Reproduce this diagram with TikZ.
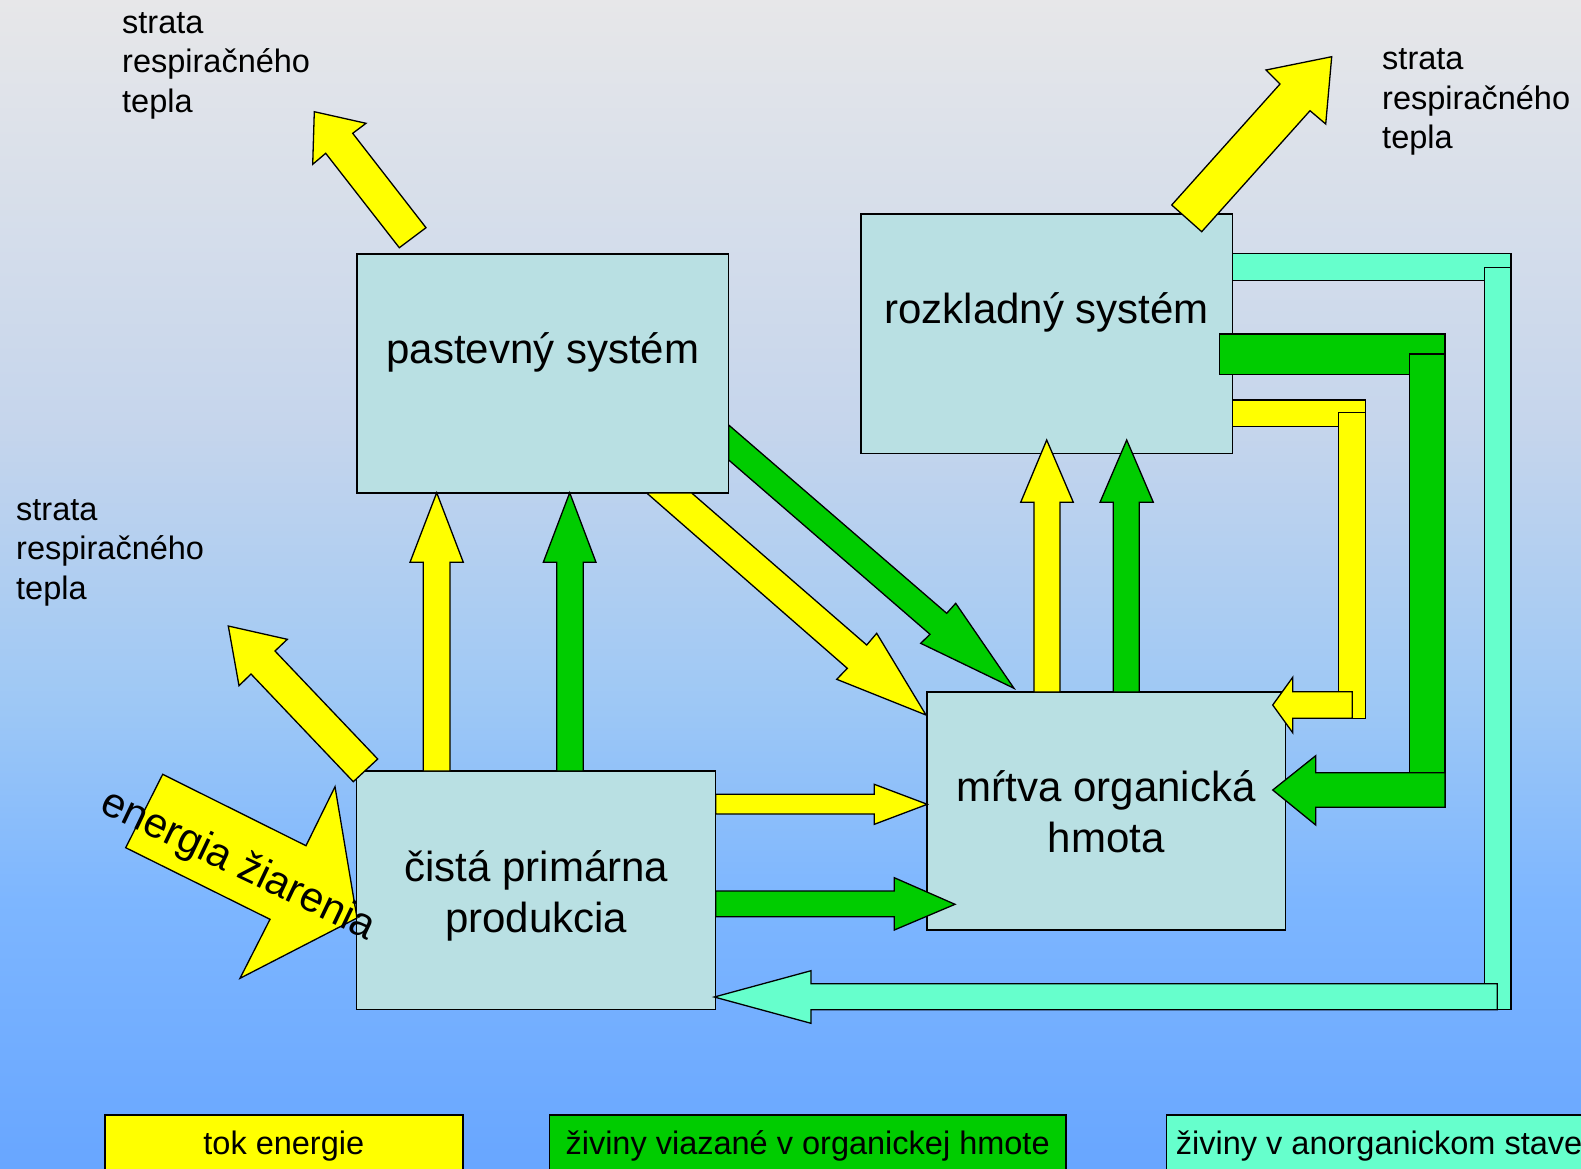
\documentclass[tikz,border=0pt]{standalone}
\usepackage{fontspec}
\setmainfont{Liberation Sans}
\newcommand\BoxFont{\fontsize{42}{50}\selectfont}
\newcommand\LabFont{\fontsize{32.5}{39}\selectfont}
\definecolor{boxc}{RGB}{185,224,227}
\definecolor{yel}{RGB}{255,255,0}
\definecolor{grn}{RGB}{0,204,0}
\definecolor{cyn}{RGB}{102,255,204}
\definecolor{bga}{RGB}{231,231,233}
\definecolor{bgb}{RGB}{197,213,236}
\definecolor{bgc}{RGB}{158,200,245}
\definecolor{bgd}{RGB}{125,182,255}
\definecolor{bge}{RGB}{104,166,255}
\tikzset{
  box/.style={draw=black, line width=1.3pt, fill=boxc, inner sep=0pt, outer sep=0pt, anchor=north west},
  legbox/.style={draw=black, line width=1.5pt, inner sep=0pt, outer sep=0pt, anchor=north west, minimum height=90pt},
  ya/.style={draw=black, line width=1.3pt, fill=yel, line join=miter},
  ga/.style={draw=black, line width=1.3pt, fill=grn, line join=miter},
  ca/.style={draw=black, line width=1.3pt, fill=cyn, line join=miter},
  btxt/.style={font=\BoxFont, anchor=base, inner sep=0pt},
  ltxt/.style={font=\LabFont, anchor=base west, inner sep=0pt},
}
\begin{document}
\begin{tikzpicture}[x=1pt,y=-1pt]
\useasboundingbox (0,0) rectangle (1581,1168);
\clip (0,0) rectangle (1581,1168);
% background
\shade[top color=bga, bottom color=bgb] (0,0) rectangle (1581,431);
\shade[top color=bgb, bottom color=bgc] (0,430) rectangle (1581,701);
\shade[top color=bgc, bottom color=bgd] (0,700) rectangle (1581,901);
\shade[top color=bgd, bottom color=bge] (0,900) rectangle (1581,1168);

% boxes
\node[box, minimum width=371.7pt, minimum height=239pt] (past) at (357,254) {};
\node[box, minimum width=371.7pt, minimum height=239.3pt] (rozk) at (861,214) {};
\node[box, minimum width=358.7pt, minimum height=238pt] (mrtv) at (927,692) {};
\node[box, minimum width=359pt, minimum height=238.5pt] (cist) at (356.7,771) {};

% respiration losses
\draw[ya] (314.3,111.7) -- (366,123.3) -- (352.7,133.3) -- (426,227.7) -- (399.3,247.7) -- (325.7,153.3) -- (312.7,164.3) -- cycle;
\draw[ya] (1331.7,56.7) -- (1325.7,124) -- (1310,110.7) -- (1201.7,231.7) -- (1171.7,205) -- (1280,84) -- (1266,70) -- cycle;
\draw[ya] (228.3,626) -- (287.3,639.3) -- (275,651) -- (377.7,759) -- (353.3,781.7) -- (251,674) -- (239,685.7) -- cycle;

% radiation input
\draw[ya] (162.7,774.3) -- (306,845.7) -- (335,786.7) -- (357,918) -- (240,978.3) -- (270,919.3) -- (125.7,847.7) -- cycle;

% primary production -> grazing
\draw[ya] (423.3,771) -- (423.3,562.3) -- (410,562.3) -- (436.7,492.7) -- (463.3,562.3) -- (450,562.3) -- (450,771) -- cycle;
\draw[ga] (556.7,771) -- (556.7,562.3) -- (543.3,562.3) -- (569.7,492.7) -- (596,562.3) -- (583.3,562.3) -- (583.3,771) -- cycle;

% grazing -> dead organic matter
\draw[ya] (646.7,493) -- (691.7,493) -- (866.7,645) -- (876.7,633.3) -- (926,715) -- (836.7,679.3) -- (847.3,668.3) -- cycle;
\draw[ga] (728.7,425) -- (946.7,613.3) -- (955.7,603.3) -- (1014,688.3) -- (920.7,643.3) -- (930,634.3) -- (728.7,460) -- cycle;

% primary production -> dead organic matter
\draw[ya] (715.7,794.3) -- (874.3,794.3) -- (874.3,784.3) -- (927.3,804.3) -- (874.3,824.3) -- (874.3,814) -- (715.7,814) -- cycle;
\draw[ga] (715.7,891) -- (894.3,891) -- (894.3,877.7) -- (955,904.3) -- (894.3,930) -- (894.3,916.7) -- (715.7,916.7) -- cycle;

% dead organic matter -> decomposition
\draw[ya] (1034,692) -- (1034,502.3) -- (1020.7,502.3) -- (1046.7,440) -- (1073.3,502.3) -- (1060,502.3) -- (1060,692) -- cycle;
\draw[ga] (1113.3,692) -- (1113.3,502.3) -- (1100,502.3) -- (1126.7,440) -- (1153.3,502.3) -- (1139.3,502.3) -- (1139.3,692) -- cycle;

% inorganic nutrients loop (cyan)
\draw[ca] (1232.7,253.3) rectangle (1511,280.7);
\draw[ca] (1484.3,267.7) rectangle (1511,1009.7);
\draw[ca] (1497.3,983.7) -- (811,983.7) -- (811,970.7) -- (714.3,997) -- (811,1023.3) -- (811,1009.7) -- (1497.3,1009.7) -- cycle;

% organic nutrients loop (green)
\draw[ga] (1219.3,334) rectangle (1445,374.3);
\draw[ga] (1409.3,354) rectangle (1445,807.3);
\draw[ga] (1445,772.7) -- (1315.7,772.7) -- (1315.7,755.7) -- (1272.7,790) -- (1315.7,825) -- (1315.7,807.3) -- (1445,807.3) -- cycle;

% energy loop (yellow)
\draw[ya] (1232.7,400) rectangle (1365.7,426.7);
\draw[ya] (1338.3,412.7) rectangle (1365.7,718.3);
\draw[ya] (1352.3,691.7) -- (1292.7,691.7) -- (1292.7,677.3) -- (1272.7,705) -- (1292.7,732.7) -- (1292.7,718.3) -- (1352.3,718.3) -- cycle;

% box texts
\node[btxt] (t1) at (542.8,363) {pastevný systém};
\node[btxt] (t2) at (1046.8,323) {rozkladný systém};
\node[btxt] (t3) at (1106.3,801) {mŕtva organická};
\node[btxt] (t4) at (1106.3,852) {hmota};
\node[btxt] (t5) at (536.3,881) {čistá primárna};
\node[btxt] (t6) at (536.3,932) {produkcia};
\node[font=\BoxFont, rotate=-25.5, inner sep=0pt] (t7) at (238,866) {energia žiarenia};

% loss labels
\node[ltxt] (l1) at (122,33.5) {strata};
\node[ltxt] (l2) at (122,72.8) {respiračného};
\node[ltxt] (l3) at (122,112) {tepla};
\node[ltxt] (l4) at (1382,69.8) {strata};
\node[ltxt] (l5) at (1382,109.2) {respiračného};
\node[ltxt] (l6) at (1382,148.5) {tepla};
\node[ltxt] (l7) at (16,520.3) {strata};
\node[ltxt] (l8) at (16,559.6) {respiračného};
\node[ltxt] (l9) at (16,599) {tepla};

% legend
\node[legbox, fill=yel, minimum width=357.9pt] (g1) at (104.9,1115.2) {};
\node[legbox, fill=grn, minimum width=516.3pt] (g2) at (549.5,1115.2) {};
\node[legbox, fill=cyn, minimum width=500pt] (g3) at (1166.6,1115.2) {};
\node[font=\LabFont, anchor=base, inner sep=0pt] (g1t) at (283.8,1154) {tok energie};
\node[font=\LabFont, anchor=base, inner sep=0pt] (g2t) at (807.6,1154) {živiny viazané v organickej hmote};
\node[ltxt] (g3t) at (1175.7,1154) {živiny v anorganickom stave};
\end{tikzpicture}
\end{document}
